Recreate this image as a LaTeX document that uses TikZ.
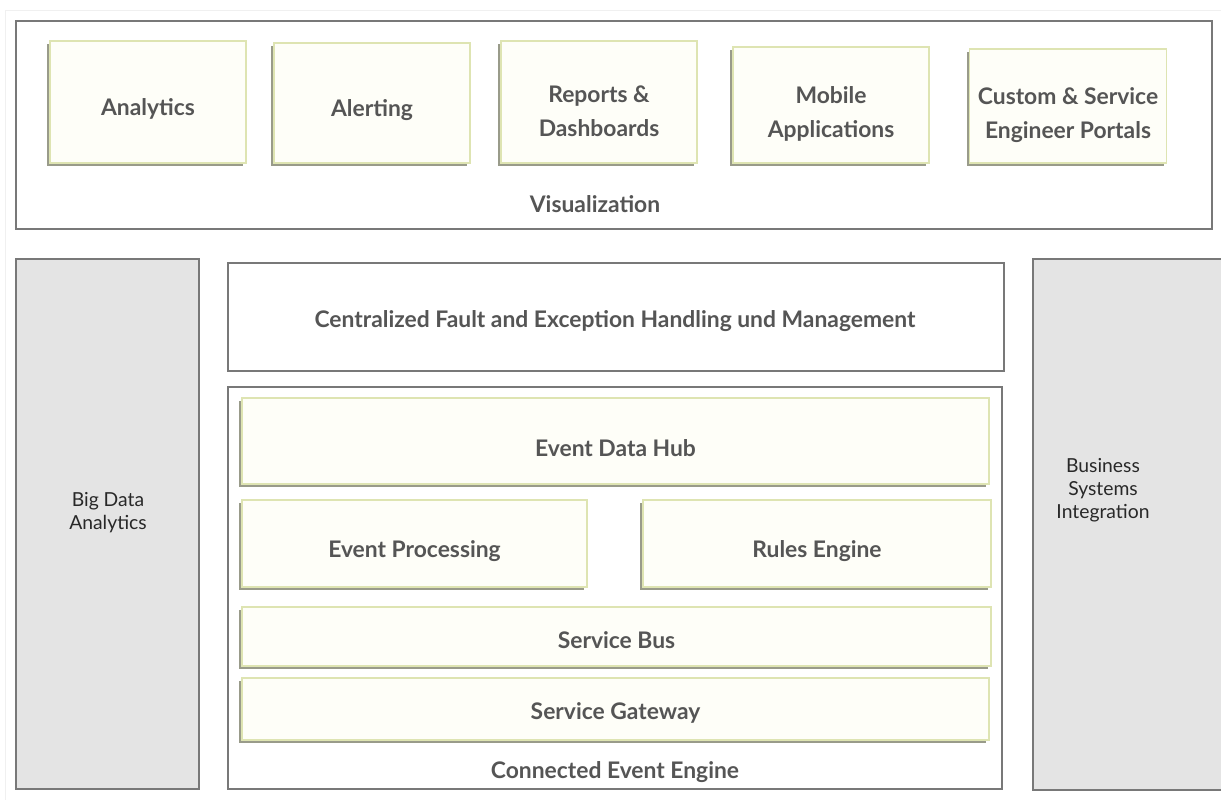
\documentclass[tikz,border=0pt]{standalone}
\usepackage{fontspec}
\setmainfont{Lato}
\usepackage{tikz}
\usetikzlibrary{shadows,positioning}
\definecolor{frame_gray}{RGB}{120, 120, 120}
\definecolor{side_gray}{RGB}{228, 228, 228}
\definecolor{box_line}{RGB}{222, 228, 178}
\definecolor{box_fill}{RGB}{254, 254, 248}
\definecolor{box_shadow}{RGB}{120, 122, 100}
\definecolor{label_gray}{RGB}{85, 85, 85}
\definecolor{side_text}{RGB}{40, 40, 40}
\tikzset{
  sz/.style 2 args = {minimum width=#1*0.02cm, minimum height=#2*0.02cm},
  layer/.style = {draw=frame_gray, line width=0.9pt, fill=white, inner sep=0pt},
  side/.style = {layer, fill=side_gray},
  comp/.style = {draw=box_line, line width=1pt, fill=box_fill, inner sep=0pt, align=center,
  text=label_gray, font=\fontsize{13}{19}\selectfont\bfseries, text height=18pt,
  drop shadow={shadow xshift=-1.6pt, shadow yshift=-1.6pt, fill=box_shadow, opacity=0.75}},
  flat/.style = {comp, text height=14pt},
  twoline/.style = {comp, text height=39pt},
  title/.style = {text=label_gray, font=\fontsize{13}{19}\selectfont\bfseries, align=center},
  sidetext/.style = {text=side_text, font=\fontsize{11}{13}\selectfont, align=center}
}

\begin{document}
\begin{tikzpicture}[x=0.02cm, y=-0.02cm]
  \useasboundingbox (0,0) rectangle (1221,800);
  \draw[gray!12] (5,800) -- (5,10) -- (1221,10);

  % visualization layer
  \node (vis) [layer, sz={1196}{208}] at (614,125) {};
  \node (analytics) [comp, sz={196}{122}] at (148,102) {Analytics};
  \node (alerting) [comp, sz={196}{120}] at (372,103) {Alerting};
  \node (reports) [twoline, sz={196}{122}] at (599,102) {Reports \&\\Dashboards};
  \node (mobile) [twoline, sz={196}{116}] at (831,105) {Mobile\\Applications};
  \node (portals) [twoline, sz={197}{114}] at (1068,106) {Custom \& Service\\Engineer Portals};
  \node (vis_t) [title] at (595,204) {Visualization};

  % side columns
  \node (bigdata) [side, sz={183}{530}] at (107.5,524) {};
  \node (bigdata_t) [sidetext] at (108,513) {Big Data\\Analytics};
  \node (business) [side, sz={200}{531}] at (1133,524.5) {};
  \node (business_t) [sidetext] at (1103,490) {Business\\Systems\\Integration};

  % fault handling
  \node (fault) [layer, sz={776}{108}] at (616,317) {};
  \node (fault_t) [title] at (615,321) {Centralized Fault and Exception Handling und Management};

  % connected event engine
  \node (engine) [layer, sz={774}{402}] at (615,588) {};
  \node (hub) [comp, sz={747}{86}] at (615.5,441) {Event Data Hub};
  \node (proc) [comp, sz={345}{87}] at (414.5,543.5) {Event Processing};
  \node (rules) [comp, sz={348}{87}] at (817,543.5) {Rules Engine};
  \node (bus) [flat, sz={749}{59}] at (616.5,636.5) {Service Bus};
  \node (gateway) [flat, sz={747}{62}] at (615.5,709) {Service Gateway};
  \node (engine_t) [title] at (615,772) {Connected Event Engine};
\end{tikzpicture}
\end{document}
